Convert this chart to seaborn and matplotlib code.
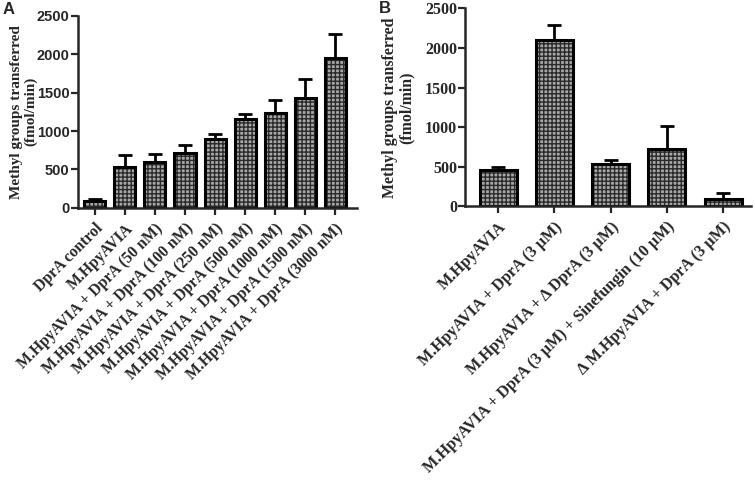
import numpy as np
import pandas as pd
import matplotlib
matplotlib.use("Agg")
import matplotlib.pyplot as plt
import seaborn as sns

# ====================== DATA ======================

labels_a = [
    "DprA control",
    "M.HpyAVIA",
    "M.HpyAVIA + DprA (50 nM)",
    "M.HpyAVIA + DprA (100 nM)",
    "M.HpyAVIA + DprA (250 nM)",
    "M.HpyAVIA + DprA (500 nM)",
    "M.HpyAVIA + DprA (1000 nM)",
    "M.HpyAVIA + DprA (1500 nM)",
    "M.HpyAVIA + DprA (3000 nM)",
]
values_a = [85, 532, 593, 718, 891, 1159, 1233, 1432, 1955]
errors_a = [25, 151, 103, 99, 69, 56, 168, 246, 307]

labels_b = [
    "M.HpyAVIA",
    "M.HpyAVIA + DprA (3 µM)",
    "M.HpyAVIA + Δ DprA (3 µM)",
    "M.HpyAVIA + DprA (3 µM) + Sinefungin (10 µM)",
    "Δ M.HpyAVIA + DprA (3 µM)",
]
values_b = [462, 2101, 538, 723, 97]
errors_b = [30, 189, 50, 298, 67]

y_ticks = [0, 500, 1000, 1500, 2000, 2500]
y_label = "Methyl groups transferred\n(fmol/min)"

# ====================== STYLE ======================

sns.set_style("ticks")
plt.rcParams['font.family'] = ['Liberation Serif', 'DejaVu Serif']
plt.rcParams['font.weight'] = 'bold'
plt.rcParams['hatch.linewidth'] = 1.0

SERIF = 'Liberation Serif'
SANS  = 'Liberation Sans'


def draw_panel(ax, labels, values, errors, width, xlim,
               tick_family, tick_size, label_size, ylab_size, ylab_x):
    df = pd.DataFrame({'label': labels, 'value': values})

    # checkered fill
    sns.barplot(data=df, x='label', y='value', ax=ax, color='#a8a8a8',
                width=width, edgecolor='#2a2a2a', linewidth=0, hatch='++++',
                saturation=1)
    # black outline on top
    sns.barplot(data=df, x='label', y='value', ax=ax, fill=False,
                width=width, edgecolor='black', linewidth=2.2)

    x = np.arange(len(values))
    ax.errorbar(x, values, yerr=[np.zeros(len(errors)), errors], fmt='none',
                ecolor='black', elinewidth=2.0, capsize=5, capthick=2.0, zorder=1)

    ax.set_xlim(*xlim)
    ax.set_ylim(0, 2500)
    ax.set_yticks(y_ticks)
    ax.set_yticklabels([str(t) for t in y_ticks], family=tick_family,
                       fontsize=tick_size, fontweight='bold')
    ax.set_xticks(x)
    ax.set_xticklabels(labels, rotation=45, ha='right', rotation_mode='anchor',
                       family=SERIF, fontsize=label_size, fontweight='bold')
    ax.set_xlabel('')
    ax.set_ylabel(y_label, family=SERIF, fontsize=ylab_size, fontweight='bold',
                  linespacing=1.1)
    ax.yaxis.set_label_coords(ylab_x, 0.5)

    ax.tick_params(axis='both', direction='out', length=5, width=1.6)
    ax.tick_params(axis='y', pad=0.8)
    ax.tick_params(axis='x', pad=4)
    for s in ['left', 'bottom']:
        ax.spines[s].set_linewidth(1.8)
    sns.despine(ax=ax)


fig = plt.figure(figsize=(7.55, 4.87), dpi=100)

ax_a = fig.add_axes([0.103, 0.573, 0.370, 0.395])
draw_panel(ax_a, labels_a, values_a, errors_a, 0.7, (-0.57, 8.73),
           SANS, 10.5, 11.3, 11, -0.145)

ax_b = fig.add_axes([0.616, 0.576, 0.379, 0.407])
draw_panel(ax_b, labels_b, values_b, errors_b, 0.66, (-0.59, 4.5),
           SERIF, 11.5, 11.7, 11.4, -0.175)

fig.text(0.004, 0.995, "A", family=SANS, fontsize=12, fontweight='bold', va='top')
fig.text(0.502, 0.998, "B", family=SANS, fontsize=12, fontweight='bold', va='top')

plt.savefig('out.png', dpi=100)
